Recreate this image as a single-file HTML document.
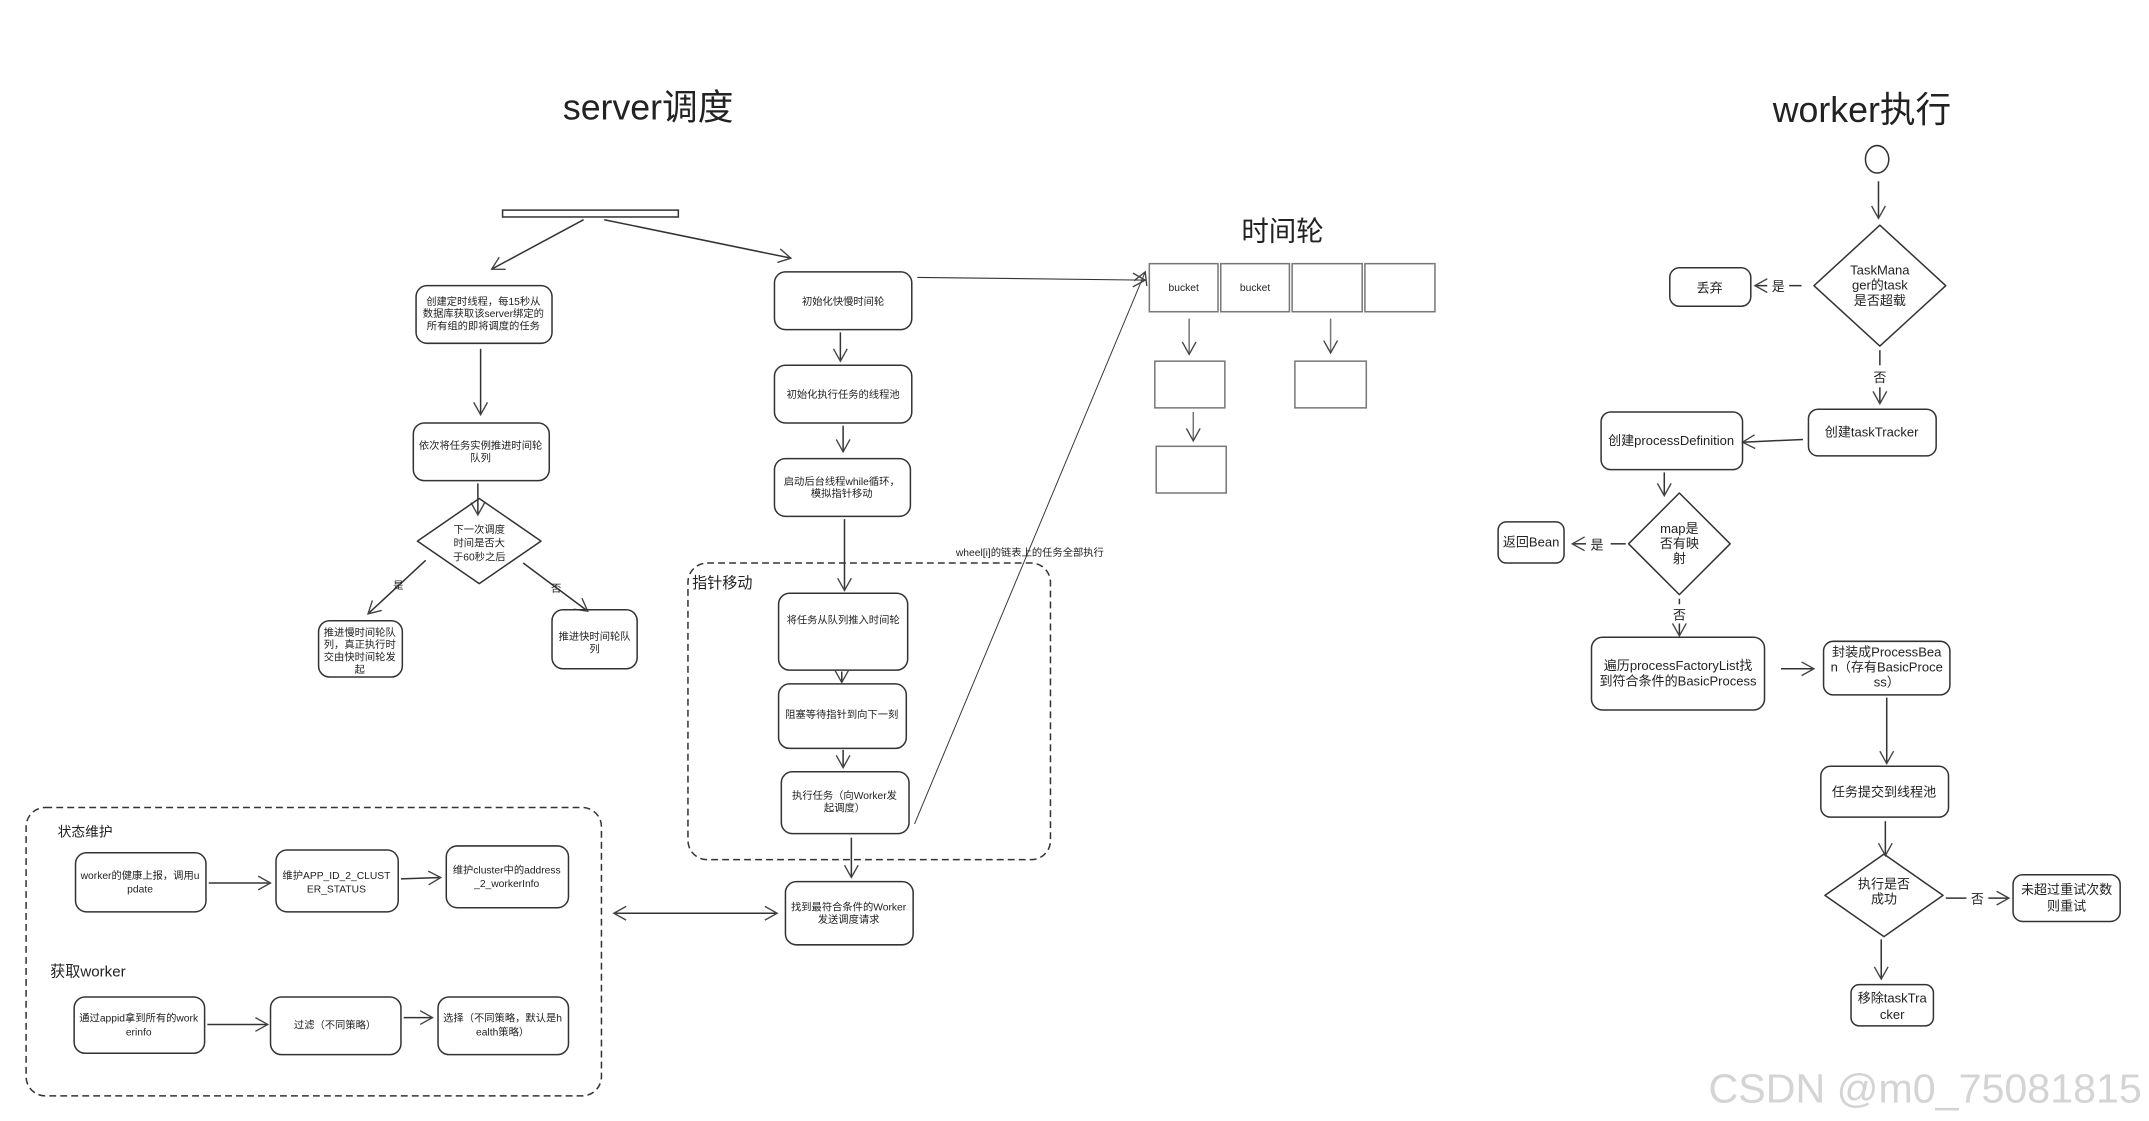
<!DOCTYPE html>
<html><head><meta charset="utf-8"><style>
html,body{margin:0;padding:0;background:#fff;}
svg{display:block;}
text{font-family:"Liberation Sans","Noto Sans CJK SC",sans-serif;fill:#222;}
</style></head><body>
<svg width="2149" height="1121" viewBox="0 0 1565 816.3" preserveAspectRatio="none" xmlns="http://www.w3.org/2000/svg">
<defs>
<marker id="a" markerWidth="12" markerHeight="12" refX="10" refY="6" orient="auto-start-reverse" markerUnits="userSpaceOnUse">
<path d="M1,1 L10,6 L1,11" fill="none" stroke="#444" stroke-width="1"/></marker>
</defs>
<g fill="none" stroke="#333" stroke-width="1.1">
<rect x="366" y="153" width="128" height="5"/>
<line x1="425" y1="160" x2="358" y2="196" marker-end="url(#a)"/>
<line x1="440" y1="160" x2="576" y2="188" marker-end="url(#a)"/>
<rect x="303" y="208" width="99" height="42" rx="8"/>
<line x1="350" y1="254" x2="350" y2="302" marker-end="url(#a)"/>
<rect x="301" y="308" width="99" height="42" rx="8"/>
<line x1="348" y1="352" x2="348" y2="375" marker-end="url(#a)"/>
<path d="M349,363 L394,394 L349,425 L304,394 Z" stroke-linejoin="round"/>
<line x1="310" y1="408" x2="268" y2="447" marker-end="url(#a)"/>
<line x1="381" y1="410" x2="428" y2="445" marker-end="url(#a)"/>
<rect x="232" y="452" width="61" height="41" rx="8"/>
<rect x="402" y="444" width="62" height="43" rx="8"/>
<rect x="564" y="198" width="100" height="42" rx="8"/>
<line x1="612" y1="242" x2="612" y2="263" marker-end="url(#a)"/>
<rect x="564" y="266" width="100" height="42" rx="8"/>
<line x1="614" y1="310" x2="614" y2="329" marker-end="url(#a)"/>
<rect x="564" y="334" width="99" height="42" rx="8"/>
<line x1="615" y1="378" x2="615" y2="430" marker-end="url(#a)"/>
<rect x="501" y="410" width="264" height="216" rx="14" stroke-dasharray="5,3"/>
<rect x="567" y="432" width="94" height="56" rx="8"/>
<line x1="613" y1="489" x2="613" y2="497" marker-end="url(#a)"/>
<rect x="567" y="498" width="93" height="47" rx="8"/>
<line x1="614" y1="546" x2="614" y2="559" marker-end="url(#a)"/>
<rect x="569" y="562" width="93" height="45" rx="8"/>
<line x1="620" y1="610" x2="620" y2="639" marker-end="url(#a)"/>
<rect x="572" y="642" width="93" height="46" rx="8"/>
<line x1="447" y1="665" x2="566" y2="665" marker-end="url(#a)" marker-start="url(#a)"/>
<line x1="666" y1="600" x2="834" y2="198" stroke-width="0.7" marker-end="url(#a)"/>
<line x1="668" y1="202" x2="834" y2="204" stroke-width="0.8" marker-end="url(#a)"/>
<g stroke="#777">
<rect x="837" y="192" width="50" height="35"/>
<rect x="889" y="192" width="50" height="35"/>
<rect x="941" y="192" width="51" height="35"/>
<rect x="994" y="192" width="51" height="35"/>
<line x1="866" y1="232" x2="866" y2="258" marker-end="url(#a)"/>
<line x1="969" y1="232" x2="969" y2="257" marker-end="url(#a)"/>
<rect x="841" y="263" width="51" height="34"/>
<rect x="943" y="263" width="52" height="34"/>
<line x1="869" y1="300" x2="869" y2="321" marker-end="url(#a)"/>
<rect x="842" y="325" width="51" height="34"/>
</g>
<rect x="19" y="588" width="419" height="210" rx="14" stroke-dasharray="5,3"/>
<rect x="55" y="621" width="95" height="43" rx="8"/>
<line x1="152" y1="643" x2="197" y2="643" marker-end="url(#a)"/>
<rect x="201" y="619" width="89" height="45" rx="8"/>
<line x1="292" y1="640" x2="321" y2="639" marker-end="url(#a)"/>
<rect x="325" y="616" width="89" height="45" rx="8"/>
<rect x="54" y="726" width="95" height="41" rx="8"/>
<line x1="151" y1="746" x2="195" y2="746" marker-end="url(#a)"/>
<rect x="197" y="726" width="95" height="42" rx="8"/>
<line x1="294" y1="741" x2="315" y2="741" marker-end="url(#a)"/>
<rect x="319" y="726" width="95" height="42" rx="8"/>
<ellipse cx="1367" cy="116" rx="8.5" ry="10"/>
<line x1="1368" y1="132" x2="1368" y2="159" marker-end="url(#a)"/>
<path d="M1369,164 L1417,208 L1369,252 L1321,208 Z" stroke-linejoin="round"/>
<line x1="1312" y1="208" x2="1303" y2="208"/>
<line x1="1287" y1="208" x2="1278" y2="208" marker-end="url(#a)"/>
<rect x="1216" y="195" width="59" height="28" rx="7"/>
<line x1="1369" y1="255" x2="1369" y2="266"/>
<line x1="1369" y1="282" x2="1369" y2="294" marker-end="url(#a)"/>
<rect x="1317" y="298" width="93" height="34" rx="7"/>
<line x1="1313" y1="320" x2="1269" y2="322" marker-end="url(#a)"/>
<rect x="1166" y="300" width="103" height="42" rx="7"/>
<line x1="1212" y1="344" x2="1212" y2="361" marker-end="url(#a)"/>
<path d="M1223,359 L1260,396 L1223,433 L1186,396 Z" stroke-linejoin="round"/>
<line x1="1184" y1="396" x2="1173" y2="396"/>
<line x1="1155" y1="396" x2="1145" y2="396" marker-end="url(#a)"/>
<rect x="1091" y="380" width="48" height="30" rx="6"/>
<line x1="1223" y1="436" x2="1223" y2="440"/>
<line x1="1223" y1="454" x2="1223" y2="463" marker-end="url(#a)"/>
<rect x="1159" y="464" width="126" height="53" rx="8"/>
<line x1="1297" y1="487" x2="1321" y2="487" marker-end="url(#a)"/>
<rect x="1328" y="467" width="92" height="39" rx="7"/>
<line x1="1374" y1="508" x2="1374" y2="556" marker-end="url(#a)"/>
<rect x="1326" y="558" width="93" height="37" rx="7"/>
<line x1="1373" y1="598" x2="1373" y2="623" marker-end="url(#a)"/>
<path d="M1372,622 L1415,652 L1372,682 L1329,652 Z" stroke-linejoin="round"/>
<line x1="1417" y1="654" x2="1432" y2="654"/>
<line x1="1448" y1="654" x2="1463" y2="654" marker-end="url(#a)"/>
<rect x="1466" y="637" width="78" height="34" rx="7"/>
<line x1="1370" y1="684" x2="1370" y2="713" marker-end="url(#a)"/>
<rect x="1348" y="717" width="60" height="30" rx="6"/>
</g>
<g text-anchor="middle">
<text x="472" y="87" font-size="26">server调度</text>
<text x="1356" y="89" font-size="26">worker执行</text>
<text x="934" y="175" font-size="20">时间轮</text>
<g font-size="7.5">
<text x="352" y="222">创建定时线程，每15秒从</text>
<text x="352" y="231">数据库获取该server绑定的</text>
<text x="352" y="240">所有组的即将调度的任务</text>
<text x="350" y="327">依次将任务实例推进时间轮</text>
<text x="350" y="336">队列</text>
<text x="349" y="388">下一次调度</text>
<text x="349" y="398">时间是否大</text>
<text x="349" y="408">于60秒之后</text>
<text x="290" y="429">是</text>
<text x="405" y="431">否</text>
<text x="262" y="463">推进慢时间轮队</text>
<text x="262" y="472">列，真正执行时</text>
<text x="262" y="481">交由快时间轮发</text>
<text x="262" y="490">起</text>
<text x="433" y="466">推进快时间轮队</text>
<text x="433" y="475">列</text>
<text x="614" y="222">初始化快慢时间轮</text>
<text x="614" y="290">初始化执行任务的线程池</text>
<text x="613" y="353">启动后台线程while循环，</text>
<text x="613" y="362">模拟指针移动</text>
<text x="614" y="454">将任务从队列推入时间轮</text>
<text x="613" y="523">阻塞等待指针到向下一刻</text>
<text x="615" y="582">执行任务（向Worker发</text>
<text x="615" y="591">起调度）</text>
<text x="618" y="663">找到最符合条件的Worker</text>
<text x="618" y="672">发送调度请求</text>
<text x="750" y="405">wheel[i]的链表上的任务全部执行</text>
<text x="862" y="212">bucket</text>
<text x="914" y="212">bucket</text>
<text x="102" y="640">worker的健康上报，调用u</text>
<text x="102" y="650">pdate</text>
<text x="245" y="640">维护APP_ID_2_CLUST</text>
<text x="245" y="650">ER_STATUS</text>
<text x="369" y="636">维护cluster中的address</text>
<text x="369" y="646">_2_workerInfo</text>
<text x="101" y="744">通过appid拿到所有的work</text>
<text x="101" y="754">erinfo</text>
<text x="244" y="749">过滤（不同策略）</text>
<text x="366" y="744">选择（不同策略，默认是h</text>
<text x="366" y="754">ealth策略）</text>
</g>
<text x="526" y="428" font-size="11">指针移动</text>
<text x="62" y="609" font-size="10">状态维护</text>
<text x="64" y="711" font-size="11">获取worker</text>
<g font-size="9.5">
<text x="1369" y="200">TaskMana</text>
<text x="1369" y="211">ger的task</text>
<text x="1369" y="222">是否超载</text>
<text x="1295" y="212">是</text>
<text x="1245" y="213">丢弃</text>
<text x="1369" y="278">否</text>
<text x="1363" y="318">创建taskTracker</text>
<text x="1217" y="324">创建processDefinition</text>
<text x="1223" y="388">map是</text>
<text x="1223" y="399">否有映</text>
<text x="1223" y="410">射</text>
<text x="1163" y="400">是</text>
<text x="1115" y="398">返回Bean</text>
<text x="1223" y="451">否</text>
<text x="1222" y="488">遍历processFactoryList找</text>
<text x="1222" y="499">到符合条件的BasicProcess</text>
<text x="1374" y="478">封装成ProcessBea</text>
<text x="1374" y="489">n（存有BasicProce</text>
<text x="1374" y="500">ss）</text>
<text x="1372" y="580">任务提交到线程池</text>
<text x="1372" y="647">执行是否</text>
<text x="1372" y="658">成功</text>
<text x="1440" y="658">否</text>
<text x="1505" y="651">未超过重试次数</text>
<text x="1505" y="663">则重试</text>
<text x="1378" y="730">移除taskTra</text>
<text x="1378" y="742">cker</text>
</g>
<text x="1402" y="803" font-size="30" style="fill:#d4d4d4">CSDN @m0_75081815</text>
</g>
</svg>
</body></html>
